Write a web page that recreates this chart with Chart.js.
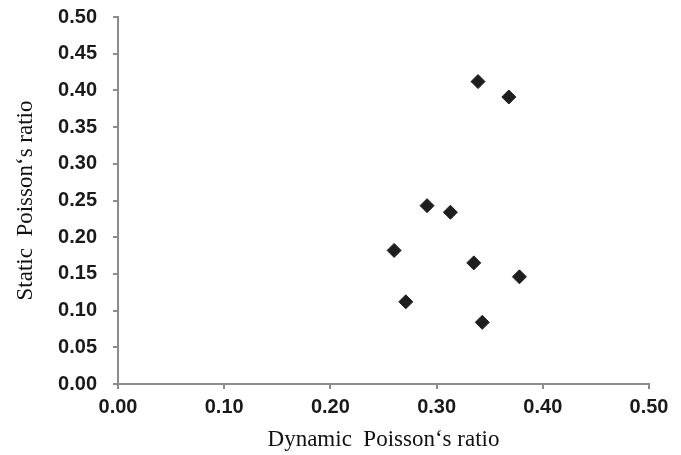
<!DOCTYPE html>
<html>
<head>
<meta charset="utf-8">
<script src="https://cdn.jsdelivr.net/npm/chart.js@4/dist/chart.umd.min.js"></script>
<style>
  html, body { margin: 0; padding: 0; background: #fff; }
  #wrap { width: 681px; height: 455px; position: relative; }
</style>
</head>
<body>
<div id="wrap"><canvas id="chart1"></canvas></div>
<script>
// dynamic vs static Poisson's ratio
const dynamicRatio = [0.339, 0.368, 0.291, 0.313, 0.260, 0.335, 0.378, 0.271, 0.343];
const staticRatio  = [0.412, 0.391, 0.243, 0.234, 0.182, 0.165, 0.146, 0.112, 0.084];

const xTicks = [0, 0.1, 0.2, 0.3, 0.4, 0.5];
const yTicks = [0, 0.05, 0.1, 0.15, 0.2, 0.25, 0.3, 0.35, 0.4, 0.45, 0.5];

const xTitle = 'Dynamic  Poisson\u2018s ratio';
const yTitle = 'Static  Poisson\u2018s ratio';

const points = dynamicRatio.map((x, i) => ({ x: x, y: staticRatio[i] }));

const axisColor = '#8c8c8c';
const tickFont = { family: 'Liberation Sans, Arial, sans-serif', size: 20, weight: 'bold' };
const titleFont = { family: 'Liberation Serif, Times New Roman, serif', size: 23 };

const ctx1 = document.getElementById('chart1');
new Chart(ctx1, {
    type: 'scatter',
    data: {
        datasets: [{
            label: 'Poisson',
            data: points,
            pointStyle: 'rectRot',
            pointRadius: 7,
            backgroundColor: '#1e1e1e',
            borderColor: '#1e1e1e',
            borderWidth: 1,
        }],
    },
    options: {
        responsive: true,
        maintainAspectRatio: false,
        animation: false,
        layout: { padding: { top: 17, right: 32, left: 0, bottom: 0 } },
        plugins: {
            legend: { display: false },
            tooltip: { enabled: false },
        },
        scales: {
            x: {
                type: 'linear',
                min: 0,
                max: 0.5,
                afterBuildTicks: (scale) => { scale.ticks = xTicks.map(v => ({ value: v })); },
                afterFit: (scale) => {
                    scale.height = 71;
                    scale.paddingLeft = 0;
                    scale.paddingRight = 0;
                },
                border: { display: true, color: axisColor, width: 2 },
                grid: { drawOnChartArea: false, drawTicks: true, tickLength: 5, color: axisColor, lineWidth: 2 },
                ticks: {
                    padding: 6,
                    color: '#1a1a1a',
                    font: tickFont,
                    callback: (v) => v.toFixed(2),
                },
                title: {
                    display: true,
                    text: xTitle,
                    color: '#111',
                    font: titleFont,
                    padding: { top: 0, bottom: 1 },
                },
            },
            y: {
                type: 'linear',
                min: 0,
                max: 0.5,
                afterBuildTicks: (scale) => { scale.ticks = yTicks.map(v => ({ value: v })); },
                afterFit: (scale) => {
                    scale.width = 118;
                    scale.paddingTop = 0;
                    scale.paddingBottom = 0;
                },
                border: { display: true, color: axisColor, width: 2 },
                grid: { drawOnChartArea: false, drawTicks: true, tickLength: 5, color: axisColor, lineWidth: 2 },
                ticks: {
                    padding: 16,
                    color: '#1a1a1a',
                    font: tickFont,
                    callback: (v) => v.toFixed(2),
                },
                title: {
                    display: true,
                    text: yTitle,
                    color: '#111',
                    font: titleFont,
                    padding: { top: 12, bottom: 0 },
                },
            },
        },
    },
});
</script>
</body>
</html>
